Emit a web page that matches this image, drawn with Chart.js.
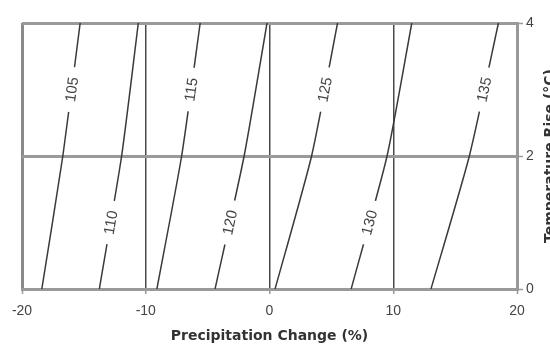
<!DOCTYPE html>
<html lang="en">
<head>
  <meta charset="UTF-8" />
  <title>Precipitation vs Temperature Contours</title>
  <script src="https://cdn.jsdelivr.net/npm/chart.js"></script>
  <style>
    html, body {
      margin: 0;
      padding: 0;
      background: #fff;
    }
    #wrap {
      width: 550px;
      height: 352px;
    }
  </style>
</head>
<body>
  <div id="wrap"><canvas id="chart" width="550" height="352"></canvas></div>

  <script>
    // axis ticks
    const precipTicks = [-20, -10, 0, 10, 20];
    const tempTicks = [0, 2, 4];

    // contour levels and where each crosses temperature 0, 2 and 4 C
    const levels = [105, 110, 115, 120, 125, 130, 135];
    const tempLevels = [0, 2, 4];
    const x105 = [-18.4, -16.7, -15.3];
    const x110 = [-13.75, -11.95, -10.6];
    const x115 = [-9.1, -7.1, -5.6];
    const x120 = [-4.4, -2.05, -0.2];
    const x125 = [0.45, 3.4, 5.5];
    const x130 = [6.6, 9.5, 11.5];
    const x135 = [13.05, 16.15, 18.5];
    const contourX = [x105, x110, x115, x120, x125, x130, x135];

    // temperature at which each contour label sits
    const labelTemp = [3, 1, 3, 1, 3, 1, 3];

    const fontFamily = "'Liberation Sans', Arial, sans-serif";
    const titleFamily = "'DejaVu Sans', Arial, sans-serif";

    const datasets = levels.map((lvl, i) => ({
      label: String(lvl),
      data: tempLevels.map((t, j) => ({ x: contourX[i][j], y: t })),
      borderColor: "#3a3a3a",
      borderWidth: 1.5,
      pointRadius: 0,
      tension: 0.2,
      fill: false
    }));

    // interpolate a contour's x at a given temperature
    function xAtTemp(xs, t) {
      for (let j = 0; j < tempLevels.length - 1; j++) {
        const t0 = tempLevels[j], t1 = tempLevels[j + 1];
        if (t >= t0 && t <= t1) {
          const f = (t - t0) / (t1 - t0);
          return xs[j] + f * (xs[j + 1] - xs[j]);
        }
      }
      return xs[xs.length - 1];
    }

    const contourLabels = {
      id: "contourLabels",
      afterDatasetsDraw(chart) {
        const ctx = chart.ctx;
        const xs = chart.scales.x, ys = chart.scales.y;
        ctx.save();
        ctx.font = "15px " + fontFamily;
        ctx.textAlign = "center";
        ctx.textBaseline = "middle";
        levels.forEach((lvl, i) => {
          const t = labelTemp[i];
          const px = xs.getPixelForValue(xAtTemp(contourX[i], t));
          const py = ys.getPixelForValue(t);
          const ax = xs.getPixelForValue(xAtTemp(contourX[i], t - 0.5));
          const ay = ys.getPixelForValue(t - 0.5);
          const bx = xs.getPixelForValue(xAtTemp(contourX[i], t + 0.5));
          const by = ys.getPixelForValue(t + 0.5);
          const ang = Math.atan2(by - ay, bx - ax);
          const text = String(lvl);
          const w = ctx.measureText(text).width;
          ctx.save();
          ctx.translate(px, py);
          ctx.rotate(ang);
          ctx.fillStyle = "#fff";
          ctx.fillRect(-w / 2 - 10, -5, w + 20, 10);
          ctx.fillStyle = "#444";
          ctx.fillText(text, 0, 1);
          ctx.restore();
        });
        ctx.restore();
      }
    };

    // right axis title, reading bottom to top and partly off the page
    const rightTitle = {
      id: "rightTitle",
      afterDraw(chart) {
        const ctx = chart.ctx;
        const area = chart.chartArea;
        ctx.save();
        ctx.font = "bold 14px " + titleFamily;
        ctx.fillStyle = "#333";
        ctx.textAlign = "center";
        ctx.textBaseline = "middle";
        ctx.translate(550, (area.top + area.bottom) / 2);
        ctx.rotate(-Math.PI / 2);
        ctx.fillText("Temperature Rise (\u00B0C)", 0, 0);
        ctx.restore();
      }
    };

    new Chart(document.getElementById("chart"), {
      type: "line",
      data: { datasets },
      options: {
        responsive: false,
        animation: false,
        layout: { padding: { left: 22, top: 23, right: 0, bottom: 0 } },
        plugins: {
          legend: { display: false },
          tooltip: { enabled: false }
        },
        scales: {
          x: {
            type: "linear",
            position: "bottom",
            min: -20,
            max: 20,
            afterBuildTicks: (s) => { s.ticks = precipTicks.map(v => ({ value: v })); },
            afterFit: (s) => { s.height = 63; },
            ticks: {
              color: "#444",
              padding: 9,
              font: { family: fontFamily, size: 14 }
            },
            grid: {
              color: (c) => (c.tick && Math.abs(c.tick.value) === 20 ? "#8a8a8a" : "#4a4a4a"),
              lineWidth: (c) => (c.tick && Math.abs(c.tick.value) === 20 ? 3 : 1.5),
              tickLength: 5,
              tickColor: "#999",
              tickWidth: 1.5
            },
            border: { display: true, color: "#999", width: 3 },
            title: {
              display: true,
              text: "Precipitation Change (%)",
              color: "#333",
              font: { family: titleFamily, size: 14, weight: "bold" },
              padding: { top: 0, bottom: 7 }
            }
          },
          y: {
            type: "linear",
            position: "right",
            min: 0,
            max: 4,
            afterBuildTicks: (s) => { s.ticks = tempTicks.map(v => ({ value: v })); },
            afterFit: (s) => { s.width = 33; },
            ticks: {
              color: "#444",
              padding: 3,
              font: { family: fontFamily, size: 14 }
            },
            grid: {
              color: "#9a9a9a",
              lineWidth: 3,
              tickLength: 6,
              tickColor: "#999",
              tickWidth: 1.5
            },
            border: { display: true, color: "#999", width: 3 }
          }
        }
      },
      plugins: [contourLabels, rightTitle]
    });
  </script>
</body>
</html>
